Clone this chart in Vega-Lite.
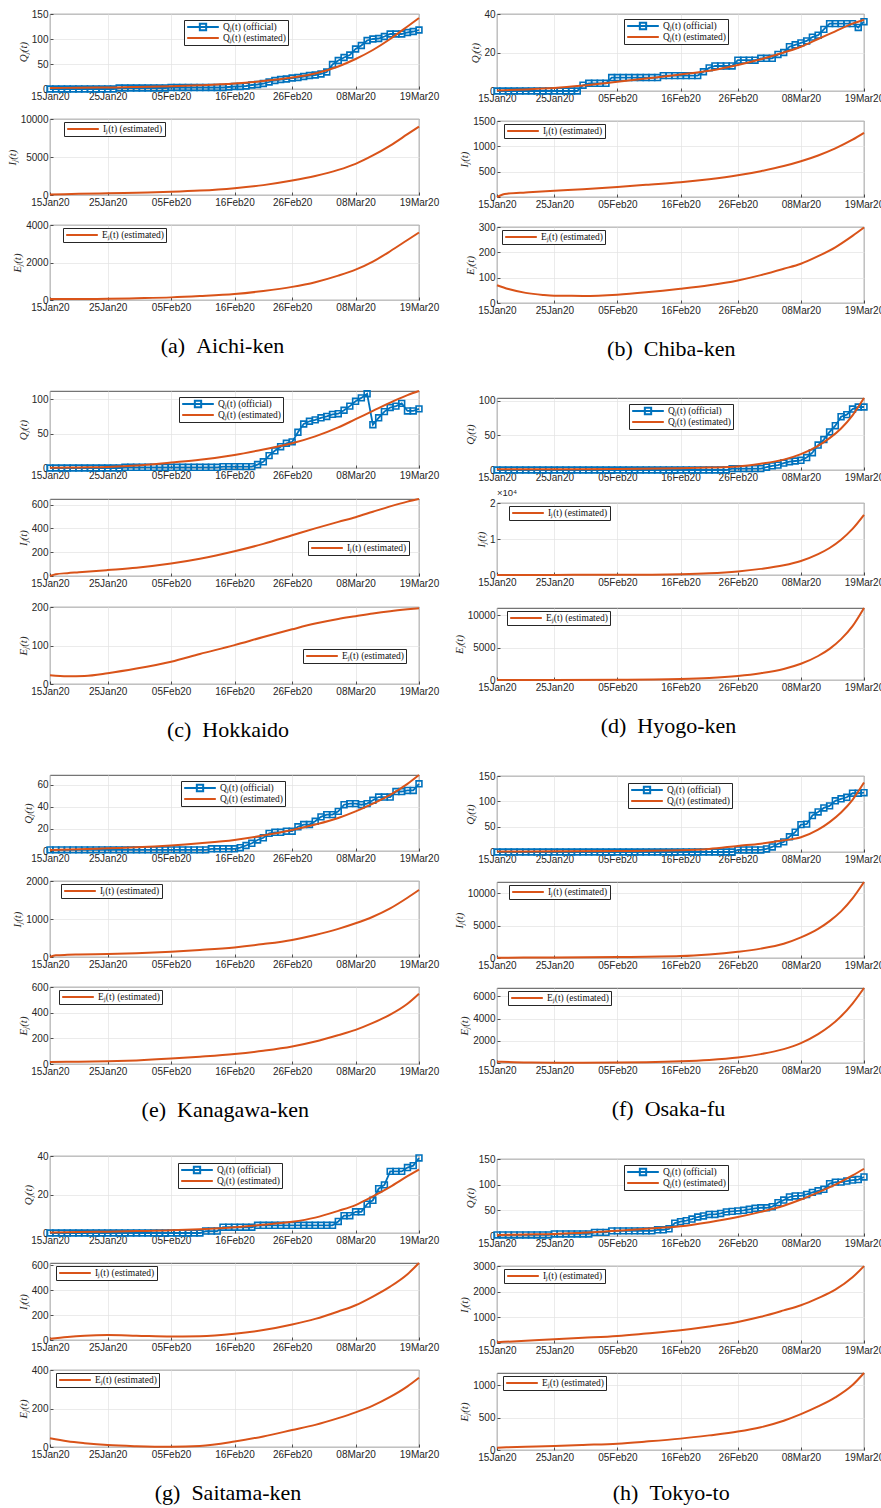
{
"$schema":"https://vega.github.io/schema/vega-lite/v6.json",
"background":"white",
"padding":{"left":5,"top":8,"right":0,"bottom":0},
"config":{
 "font":"Liberation Sans",
 "numberFormat":"d",
 "view":{"stroke":"#262626","strokeWidth":0.8},
 "axis":{"domain":false,"grid":true,"gridColor":"#e3e3e3","gridWidth":0.7,"ticks":true,"tickColor":"#262626","tickSize":-3,"tickWidth":0.8,"labelPadding":5,"labelFont":"Liberation Sans","labelFontSize":10,"labelColor":"#262626","labelFlush":false,"labelOverlap":false,"titleFont":"Liberation Serif","titleFontStyle":"italic","titleFontWeight":"normal","titleFontSize":11,"titleColor":"#262626","titlePadding":3},
 "legend":{"orient":"none","legendX":8,"legendY":3,"labelFont":"Liberation Serif","labelFontSize":9.5,"labelColor":"#111111","strokeColor":"#262626","fillColor":"white","padding":2,"symbolType":"stroke","symbolSize":1000,"symbolStrokeWidth":2,"rowPadding":1,"labelOffset":3,"clipHeight":10},
 "title":{"font":"Liberation Serif","fontSize":22,"fontWeight":"normal","color":"#000000","orient":"bottom","anchor":"middle","frame":"bounds","offset":24}
},
"datasets":{
"obs":[
{"p":"a","t":0,"v":0},{"p":"a","t":1,"v":0},{"p":"a","t":2,"v":0},{"p":"a","t":3,"v":0},{"p":"a","t":4,"v":0},{"p":"a","t":5,"v":0},{"p":"a","t":6,"v":0},{"p":"a","t":7,"v":0},{"p":"a","t":8,"v":0},{"p":"a","t":9,"v":0},{"p":"a","t":10,"v":0},{"p":"a","t":11,"v":0},{"p":"a","t":12,"v":2},{"p":"a","t":13,"v":2},{"p":"a","t":14,"v":2},{"p":"a","t":15,"v":2},{"p":"a","t":16,"v":2},{"p":"a","t":17,"v":2},{"p":"a","t":18,"v":2},{"p":"a","t":19,"v":2},{"p":"a","t":20,"v":2},{"p":"a","t":21,"v":3},{"p":"a","t":22,"v":3},{"p":"a","t":23,"v":3},{"p":"a","t":24,"v":3},{"p":"a","t":25,"v":3},{"p":"a","t":26,"v":3},{"p":"a","t":27,"v":3},{"p":"a","t":28,"v":3},{"p":"a","t":29,"v":3},{"p":"a","t":30,"v":3},{"p":"a","t":31,"v":4},{"p":"a","t":32,"v":5},{"p":"a","t":33,"v":5},{"p":"a","t":34,"v":6},{"p":"a","t":35,"v":8},{"p":"a","t":36,"v":9},{"p":"a","t":37,"v":11},{"p":"a","t":38,"v":14},{"p":"a","t":39,"v":17},{"p":"a","t":40,"v":19},{"p":"a","t":41,"v":20},{"p":"a","t":42,"v":22},{"p":"a","t":43,"v":23},{"p":"a","t":44,"v":25},{"p":"a","t":45,"v":27},{"p":"a","t":46,"v":28},{"p":"a","t":47,"v":30},{"p":"a","t":48,"v":34},{"p":"a","t":49,"v":49},{"p":"a","t":50,"v":57},{"p":"a","t":51,"v":63},{"p":"a","t":52,"v":68},{"p":"a","t":53,"v":80},{"p":"a","t":54,"v":87},{"p":"a","t":55,"v":97},{"p":"a","t":56,"v":100},{"p":"a","t":57,"v":101},{"p":"a","t":58,"v":105},{"p":"a","t":59,"v":110},{"p":"a","t":60,"v":110},{"p":"a","t":61,"v":110},{"p":"a","t":62,"v":113},{"p":"a","t":63,"v":115},{"p":"a","t":64,"v":118},
{"p":"b","t":0,"v":0},{"p":"b","t":1,"v":0},{"p":"b","t":2,"v":0},{"p":"b","t":3,"v":0},{"p":"b","t":4,"v":0},{"p":"b","t":5,"v":0},{"p":"b","t":6,"v":0},{"p":"b","t":7,"v":0},{"p":"b","t":8,"v":0},{"p":"b","t":9,"v":0},{"p":"b","t":10,"v":0},{"p":"b","t":11,"v":0},{"p":"b","t":12,"v":0},{"p":"b","t":13,"v":0},{"p":"b","t":14,"v":0},{"p":"b","t":15,"v":3},{"p":"b","t":16,"v":4},{"p":"b","t":17,"v":4},{"p":"b","t":18,"v":4},{"p":"b","t":19,"v":4},{"p":"b","t":20,"v":7},{"p":"b","t":21,"v":7},{"p":"b","t":22,"v":7},{"p":"b","t":23,"v":7},{"p":"b","t":24,"v":7},{"p":"b","t":25,"v":7},{"p":"b","t":26,"v":7},{"p":"b","t":27,"v":7},{"p":"b","t":28,"v":7},{"p":"b","t":29,"v":8},{"p":"b","t":30,"v":8},{"p":"b","t":31,"v":8},{"p":"b","t":32,"v":8},{"p":"b","t":33,"v":8},{"p":"b","t":34,"v":8},{"p":"b","t":35,"v":8},{"p":"b","t":36,"v":10},{"p":"b","t":37,"v":12},{"p":"b","t":38,"v":13},{"p":"b","t":39,"v":13},{"p":"b","t":40,"v":13},{"p":"b","t":41,"v":13},{"p":"b","t":42,"v":16},{"p":"b","t":43,"v":16},{"p":"b","t":44,"v":16},{"p":"b","t":45,"v":16},{"p":"b","t":46,"v":17},{"p":"b","t":47,"v":17},{"p":"b","t":48,"v":17},{"p":"b","t":49,"v":19},{"p":"b","t":50,"v":20},{"p":"b","t":51,"v":23},{"p":"b","t":52,"v":24},{"p":"b","t":53,"v":25},{"p":"b","t":54,"v":26},{"p":"b","t":55,"v":28},{"p":"b","t":56,"v":29},{"p":"b","t":57,"v":32},{"p":"b","t":58,"v":35},{"p":"b","t":59,"v":35},{"p":"b","t":60,"v":35},{"p":"b","t":61,"v":35},{"p":"b","t":62,"v":35},{"p":"b","t":63,"v":33},{"p":"b","t":64,"v":36},
{"p":"c","t":0,"v":0},{"p":"c","t":1,"v":0},{"p":"c","t":2,"v":0},{"p":"c","t":3,"v":0},{"p":"c","t":4,"v":0},{"p":"c","t":5,"v":0},{"p":"c","t":6,"v":0},{"p":"c","t":7,"v":0},{"p":"c","t":8,"v":0},{"p":"c","t":9,"v":0},{"p":"c","t":10,"v":0},{"p":"c","t":11,"v":0},{"p":"c","t":12,"v":0},{"p":"c","t":13,"v":1},{"p":"c","t":14,"v":1},{"p":"c","t":15,"v":1},{"p":"c","t":16,"v":1},{"p":"c","t":17,"v":1},{"p":"c","t":18,"v":1},{"p":"c","t":19,"v":1},{"p":"c","t":20,"v":1},{"p":"c","t":21,"v":1},{"p":"c","t":22,"v":1},{"p":"c","t":23,"v":1},{"p":"c","t":24,"v":1},{"p":"c","t":25,"v":1},{"p":"c","t":26,"v":1},{"p":"c","t":27,"v":1},{"p":"c","t":28,"v":1},{"p":"c","t":29,"v":1},{"p":"c","t":30,"v":2},{"p":"c","t":31,"v":2},{"p":"c","t":32,"v":2},{"p":"c","t":33,"v":2},{"p":"c","t":34,"v":2},{"p":"c","t":35,"v":2},{"p":"c","t":36,"v":5},{"p":"c","t":37,"v":9},{"p":"c","t":38,"v":18},{"p":"c","t":39,"v":25},{"p":"c","t":40,"v":31},{"p":"c","t":41,"v":36},{"p":"c","t":42,"v":38},{"p":"c","t":43,"v":52},{"p":"c","t":44,"v":64},{"p":"c","t":45,"v":68},{"p":"c","t":46,"v":70},{"p":"c","t":47,"v":73},{"p":"c","t":48,"v":75},{"p":"c","t":49,"v":78},{"p":"c","t":50,"v":79},{"p":"c","t":51,"v":84},{"p":"c","t":52,"v":90},{"p":"c","t":53,"v":97},{"p":"c","t":54,"v":102},{"p":"c","t":55,"v":108},{"p":"c","t":56,"v":63},{"p":"c","t":57,"v":73},{"p":"c","t":58,"v":82},{"p":"c","t":59,"v":88},{"p":"c","t":60,"v":90},{"p":"c","t":61,"v":94},{"p":"c","t":62,"v":83},{"p":"c","t":63,"v":83},{"p":"c","t":64,"v":86},
{"p":"d","t":0,"v":0},{"p":"d","t":1,"v":0},{"p":"d","t":2,"v":0},{"p":"d","t":3,"v":0},{"p":"d","t":4,"v":0},{"p":"d","t":5,"v":0},{"p":"d","t":6,"v":0},{"p":"d","t":7,"v":0},{"p":"d","t":8,"v":0},{"p":"d","t":9,"v":0},{"p":"d","t":10,"v":0},{"p":"d","t":11,"v":0},{"p":"d","t":12,"v":0},{"p":"d","t":13,"v":0},{"p":"d","t":14,"v":0},{"p":"d","t":15,"v":0},{"p":"d","t":16,"v":0},{"p":"d","t":17,"v":0},{"p":"d","t":18,"v":0},{"p":"d","t":19,"v":0},{"p":"d","t":20,"v":0},{"p":"d","t":21,"v":0},{"p":"d","t":22,"v":0},{"p":"d","t":23,"v":0},{"p":"d","t":24,"v":0},{"p":"d","t":25,"v":0},{"p":"d","t":26,"v":0},{"p":"d","t":27,"v":0},{"p":"d","t":28,"v":0},{"p":"d","t":29,"v":0},{"p":"d","t":30,"v":0},{"p":"d","t":31,"v":0},{"p":"d","t":32,"v":0},{"p":"d","t":33,"v":0},{"p":"d","t":34,"v":0},{"p":"d","t":35,"v":0},{"p":"d","t":36,"v":0},{"p":"d","t":37,"v":0},{"p":"d","t":38,"v":0},{"p":"d","t":39,"v":0},{"p":"d","t":40,"v":0},{"p":"d","t":41,"v":2},{"p":"d","t":42,"v":2},{"p":"d","t":43,"v":2},{"p":"d","t":44,"v":2},{"p":"d","t":45,"v":2},{"p":"d","t":46,"v":2},{"p":"d","t":47,"v":4},{"p":"d","t":48,"v":6},{"p":"d","t":49,"v":7},{"p":"d","t":50,"v":10},{"p":"d","t":51,"v":12},{"p":"d","t":52,"v":13},{"p":"d","t":53,"v":14},{"p":"d","t":54,"v":18},{"p":"d","t":55,"v":25},{"p":"d","t":56,"v":36},{"p":"d","t":57,"v":44},{"p":"d","t":58,"v":55},{"p":"d","t":59,"v":64},{"p":"d","t":60,"v":77},{"p":"d","t":61,"v":80},{"p":"d","t":62,"v":88},{"p":"d","t":63,"v":91},{"p":"d","t":64,"v":91},
{"p":"e","t":0,"v":1},{"p":"e","t":1,"v":1},{"p":"e","t":2,"v":1},{"p":"e","t":3,"v":1},{"p":"e","t":4,"v":1},{"p":"e","t":5,"v":1},{"p":"e","t":6,"v":1},{"p":"e","t":7,"v":1},{"p":"e","t":8,"v":1},{"p":"e","t":9,"v":1},{"p":"e","t":10,"v":1},{"p":"e","t":11,"v":1},{"p":"e","t":12,"v":1},{"p":"e","t":13,"v":1},{"p":"e","t":14,"v":1},{"p":"e","t":15,"v":1},{"p":"e","t":16,"v":1},{"p":"e","t":17,"v":1},{"p":"e","t":18,"v":1},{"p":"e","t":19,"v":1},{"p":"e","t":20,"v":1},{"p":"e","t":21,"v":1},{"p":"e","t":22,"v":1},{"p":"e","t":23,"v":1},{"p":"e","t":24,"v":1},{"p":"e","t":25,"v":1},{"p":"e","t":26,"v":1},{"p":"e","t":27,"v":1},{"p":"e","t":28,"v":2},{"p":"e","t":29,"v":2},{"p":"e","t":30,"v":2},{"p":"e","t":31,"v":2},{"p":"e","t":32,"v":2},{"p":"e","t":33,"v":3},{"p":"e","t":34,"v":5},{"p":"e","t":35,"v":7},{"p":"e","t":36,"v":10},{"p":"e","t":37,"v":12},{"p":"e","t":38,"v":16},{"p":"e","t":39,"v":17},{"p":"e","t":40,"v":17},{"p":"e","t":41,"v":18},{"p":"e","t":42,"v":18},{"p":"e","t":43,"v":22},{"p":"e","t":44,"v":24},{"p":"e","t":45,"v":24},{"p":"e","t":46,"v":27},{"p":"e","t":47,"v":31},{"p":"e","t":48,"v":33},{"p":"e","t":49,"v":33},{"p":"e","t":50,"v":36},{"p":"e","t":51,"v":42},{"p":"e","t":52,"v":43},{"p":"e","t":53,"v":43},{"p":"e","t":54,"v":42},{"p":"e","t":55,"v":43},{"p":"e","t":56,"v":46},{"p":"e","t":57,"v":49},{"p":"e","t":58,"v":49},{"p":"e","t":59,"v":49},{"p":"e","t":60,"v":54},{"p":"e","t":61,"v":54},{"p":"e","t":62,"v":55},{"p":"e","t":63,"v":55},{"p":"e","t":64,"v":61},
{"p":"f","t":0,"v":0},{"p":"f","t":1,"v":0},{"p":"f","t":2,"v":0},{"p":"f","t":3,"v":0},{"p":"f","t":4,"v":0},{"p":"f","t":5,"v":0},{"p":"f","t":6,"v":0},{"p":"f","t":7,"v":0},{"p":"f","t":8,"v":0},{"p":"f","t":9,"v":0},{"p":"f","t":10,"v":0},{"p":"f","t":11,"v":0},{"p":"f","t":12,"v":0},{"p":"f","t":13,"v":0},{"p":"f","t":14,"v":0},{"p":"f","t":15,"v":0},{"p":"f","t":16,"v":0},{"p":"f","t":17,"v":0},{"p":"f","t":18,"v":0},{"p":"f","t":19,"v":0},{"p":"f","t":20,"v":0},{"p":"f","t":21,"v":0},{"p":"f","t":22,"v":0},{"p":"f","t":23,"v":0},{"p":"f","t":24,"v":0},{"p":"f","t":25,"v":0},{"p":"f","t":26,"v":0},{"p":"f","t":27,"v":0},{"p":"f","t":28,"v":0},{"p":"f","t":29,"v":0},{"p":"f","t":30,"v":0},{"p":"f","t":31,"v":0},{"p":"f","t":32,"v":0},{"p":"f","t":33,"v":0},{"p":"f","t":34,"v":0},{"p":"f","t":35,"v":0},{"p":"f","t":36,"v":0},{"p":"f","t":37,"v":0},{"p":"f","t":38,"v":0},{"p":"f","t":39,"v":0},{"p":"f","t":40,"v":0},{"p":"f","t":41,"v":0},{"p":"f","t":42,"v":4},{"p":"f","t":43,"v":4},{"p":"f","t":44,"v":4},{"p":"f","t":45,"v":4},{"p":"f","t":46,"v":4},{"p":"f","t":47,"v":6},{"p":"f","t":48,"v":10},{"p":"f","t":49,"v":16},{"p":"f","t":50,"v":20},{"p":"f","t":51,"v":30},{"p":"f","t":52,"v":39},{"p":"f","t":53,"v":54},{"p":"f","t":54,"v":55},{"p":"f","t":55,"v":72},{"p":"f","t":56,"v":79},{"p":"f","t":57,"v":87},{"p":"f","t":58,"v":91},{"p":"f","t":59,"v":101},{"p":"f","t":60,"v":105},{"p":"f","t":61,"v":108},{"p":"f","t":62,"v":116},{"p":"f","t":63,"v":116},{"p":"f","t":64,"v":117},
{"p":"g","t":0,"v":0},{"p":"g","t":1,"v":0},{"p":"g","t":2,"v":0},{"p":"g","t":3,"v":0},{"p":"g","t":4,"v":0},{"p":"g","t":5,"v":0},{"p":"g","t":6,"v":0},{"p":"g","t":7,"v":0},{"p":"g","t":8,"v":0},{"p":"g","t":9,"v":0},{"p":"g","t":10,"v":0},{"p":"g","t":11,"v":0},{"p":"g","t":12,"v":0},{"p":"g","t":13,"v":0},{"p":"g","t":14,"v":0},{"p":"g","t":15,"v":0},{"p":"g","t":16,"v":0},{"p":"g","t":17,"v":0},{"p":"g","t":18,"v":0},{"p":"g","t":19,"v":0},{"p":"g","t":20,"v":0},{"p":"g","t":21,"v":0},{"p":"g","t":22,"v":0},{"p":"g","t":23,"v":0},{"p":"g","t":24,"v":0},{"p":"g","t":25,"v":0},{"p":"g","t":26,"v":0},{"p":"g","t":27,"v":1},{"p":"g","t":28,"v":1},{"p":"g","t":29,"v":1},{"p":"g","t":30,"v":3},{"p":"g","t":31,"v":3},{"p":"g","t":32,"v":3},{"p":"g","t":33,"v":3},{"p":"g","t":34,"v":3},{"p":"g","t":35,"v":3},{"p":"g","t":36,"v":4},{"p":"g","t":37,"v":4},{"p":"g","t":38,"v":4},{"p":"g","t":39,"v":4},{"p":"g","t":40,"v":4},{"p":"g","t":41,"v":4},{"p":"g","t":42,"v":4},{"p":"g","t":43,"v":4},{"p":"g","t":44,"v":4},{"p":"g","t":45,"v":4},{"p":"g","t":46,"v":4},{"p":"g","t":47,"v":4},{"p":"g","t":48,"v":4},{"p":"g","t":49,"v":4},{"p":"g","t":50,"v":6},{"p":"g","t":51,"v":9},{"p":"g","t":52,"v":9},{"p":"g","t":53,"v":11},{"p":"g","t":54,"v":11},{"p":"g","t":55,"v":15},{"p":"g","t":56,"v":17},{"p":"g","t":57,"v":23},{"p":"g","t":58,"v":25},{"p":"g","t":59,"v":32},{"p":"g","t":60,"v":32},{"p":"g","t":61,"v":32},{"p":"g","t":62,"v":34},{"p":"g","t":63,"v":35},{"p":"g","t":64,"v":39},
{"p":"h","t":0,"v":2},{"p":"h","t":1,"v":2},{"p":"h","t":2,"v":2},{"p":"h","t":3,"v":2},{"p":"h","t":4,"v":2},{"p":"h","t":5,"v":2},{"p":"h","t":6,"v":2},{"p":"h","t":7,"v":2},{"p":"h","t":8,"v":2},{"p":"h","t":9,"v":2},{"p":"h","t":10,"v":4},{"p":"h","t":11,"v":4},{"p":"h","t":12,"v":4},{"p":"h","t":13,"v":4},{"p":"h","t":14,"v":4},{"p":"h","t":15,"v":4},{"p":"h","t":16,"v":4},{"p":"h","t":17,"v":7},{"p":"h","t":18,"v":7},{"p":"h","t":19,"v":7},{"p":"h","t":20,"v":10},{"p":"h","t":21,"v":10},{"p":"h","t":22,"v":10},{"p":"h","t":23,"v":10},{"p":"h","t":24,"v":10},{"p":"h","t":25,"v":10},{"p":"h","t":26,"v":10},{"p":"h","t":27,"v":10},{"p":"h","t":28,"v":12},{"p":"h","t":29,"v":12},{"p":"h","t":30,"v":14},{"p":"h","t":31,"v":25},{"p":"h","t":32,"v":28},{"p":"h","t":33,"v":30},{"p":"h","t":34,"v":33},{"p":"h","t":35,"v":37},{"p":"h","t":36,"v":39},{"p":"h","t":37,"v":42},{"p":"h","t":38,"v":42},{"p":"h","t":39,"v":44},{"p":"h","t":40,"v":47},{"p":"h","t":41,"v":48},{"p":"h","t":42,"v":49},{"p":"h","t":43,"v":50},{"p":"h","t":44,"v":52},{"p":"h","t":45,"v":54},{"p":"h","t":46,"v":55},{"p":"h","t":47,"v":55},{"p":"h","t":48,"v":57},{"p":"h","t":49,"v":65},{"p":"h","t":50,"v":70},{"p":"h","t":51,"v":76},{"p":"h","t":52,"v":78},{"p":"h","t":53,"v":78},{"p":"h","t":54,"v":81},{"p":"h","t":55,"v":85},{"p":"h","t":56,"v":88},{"p":"h","t":57,"v":91},{"p":"h","t":58,"v":102},{"p":"h","t":59,"v":105},{"p":"h","t":60,"v":105},{"p":"h","t":61,"v":107},{"p":"h","t":62,"v":109},{"p":"h","t":63,"v":110},{"p":"h","t":64,"v":115}
],
"est":[
{"p":"a","s":"Q","t":0,"v":2},{"p":"a","s":"Q","t":5,"v":2.5},{"p":"a","s":"Q","t":10,"v":3},{"p":"a","s":"Q","t":15,"v":4},{"p":"a","s":"Q","t":21,"v":5.5},{"p":"a","s":"Q","t":26,"v":7.5},{"p":"a","s":"Q","t":32,"v":11},{"p":"a","s":"Q","t":37,"v":16},{"p":"a","s":"Q","t":42,"v":23},{"p":"a","s":"Q","t":46,"v":31},{"p":"a","s":"Q","t":50,"v":45},{"p":"a","s":"Q","t":53,"v":60},{"p":"a","s":"Q","t":56,"v":78},{"p":"a","s":"Q","t":59,"v":100},{"p":"a","s":"Q","t":62,"v":125},{"p":"a","s":"Q","t":64,"v":142},
{"p":"a","s":"I","t":0,"v":80},{"p":"a","s":"I","t":5,"v":150},{"p":"a","s":"I","t":10,"v":220},{"p":"a","s":"I","t":15,"v":300},{"p":"a","s":"I","t":21,"v":420},{"p":"a","s":"I","t":26,"v":580},{"p":"a","s":"I","t":32,"v":900},{"p":"a","s":"I","t":37,"v":1300},{"p":"a","s":"I","t":42,"v":1900},{"p":"a","s":"I","t":46,"v":2500},{"p":"a","s":"I","t":50,"v":3300},{"p":"a","s":"I","t":53,"v":4100},{"p":"a","s":"I","t":56,"v":5200},{"p":"a","s":"I","t":59,"v":6500},{"p":"a","s":"I","t":62,"v":8000},{"p":"a","s":"I","t":64,"v":9000},
{"p":"a","s":"E","t":0,"v":50},{"p":"a","s":"E","t":5,"v":55},{"p":"a","s":"E","t":10,"v":65},{"p":"a","s":"E","t":15,"v":95},{"p":"a","s":"E","t":21,"v":140},{"p":"a","s":"E","t":26,"v":210},{"p":"a","s":"E","t":32,"v":320},{"p":"a","s":"E","t":37,"v":480},{"p":"a","s":"E","t":42,"v":700},{"p":"a","s":"E","t":46,"v":950},{"p":"a","s":"E","t":50,"v":1300},{"p":"a","s":"E","t":53,"v":1620},{"p":"a","s":"E","t":56,"v":2050},{"p":"a","s":"E","t":59,"v":2600},{"p":"a","s":"E","t":62,"v":3200},{"p":"a","s":"E","t":64,"v":3600},
{"p":"b","s":"Q","t":0,"v":0.3},{"p":"b","s":"Q","t":5,"v":0.8},{"p":"b","s":"Q","t":10,"v":1.5},{"p":"b","s":"Q","t":15,"v":2.8},{"p":"b","s":"Q","t":21,"v":4.8},{"p":"b","s":"Q","t":26,"v":6.5},{"p":"b","s":"Q","t":32,"v":8.6},{"p":"b","s":"Q","t":37,"v":10.5},{"p":"b","s":"Q","t":42,"v":13.5},{"p":"b","s":"Q","t":46,"v":16.5},{"p":"b","s":"Q","t":50,"v":20},{"p":"b","s":"Q","t":53,"v":23},{"p":"b","s":"Q","t":56,"v":27},{"p":"b","s":"Q","t":59,"v":31},{"p":"b","s":"Q","t":62,"v":35},{"p":"b","s":"Q","t":64,"v":37},
{"p":"b","s":"I","t":0,"v":0},{"p":"b","s":"I","t":1,"v":50},{"p":"b","s":"I","t":2,"v":68},{"p":"b","s":"I","t":5,"v":90},{"p":"b","s":"I","t":10,"v":125},{"p":"b","s":"I","t":15,"v":155},{"p":"b","s":"I","t":21,"v":197},{"p":"b","s":"I","t":26,"v":240},{"p":"b","s":"I","t":32,"v":290},{"p":"b","s":"I","t":37,"v":350},{"p":"b","s":"I","t":42,"v":428},{"p":"b","s":"I","t":46,"v":510},{"p":"b","s":"I","t":50,"v":610},{"p":"b","s":"I","t":53,"v":705},{"p":"b","s":"I","t":56,"v":820},{"p":"b","s":"I","t":59,"v":960},{"p":"b","s":"I","t":62,"v":1130},{"p":"b","s":"I","t":64,"v":1265},
{"p":"b","s":"E","t":0,"v":70},{"p":"b","s":"E","t":2,"v":55},{"p":"b","s":"E","t":5,"v":40},{"p":"b","s":"E","t":8,"v":32},{"p":"b","s":"E","t":10,"v":29},{"p":"b","s":"E","t":15,"v":28},{"p":"b","s":"E","t":21,"v":33},{"p":"b","s":"E","t":26,"v":42},{"p":"b","s":"E","t":32,"v":56},{"p":"b","s":"E","t":37,"v":70},{"p":"b","s":"E","t":42,"v":89},{"p":"b","s":"E","t":46,"v":110},{"p":"b","s":"E","t":50,"v":135},{"p":"b","s":"E","t":53,"v":155},{"p":"b","s":"E","t":56,"v":185},{"p":"b","s":"E","t":59,"v":220},{"p":"b","s":"E","t":62,"v":265},{"p":"b","s":"E","t":64,"v":298},
{"p":"c","s":"Q","t":0,"v":0.3},{"p":"c","s":"Q","t":5,"v":0.8},{"p":"c","s":"Q","t":10,"v":1.5},{"p":"c","s":"Q","t":15,"v":3.5},{"p":"c","s":"Q","t":21,"v":8},{"p":"c","s":"Q","t":26,"v":12},{"p":"c","s":"Q","t":32,"v":19},{"p":"c","s":"Q","t":37,"v":27},{"p":"c","s":"Q","t":42,"v":36},{"p":"c","s":"Q","t":46,"v":46},{"p":"c","s":"Q","t":50,"v":59},{"p":"c","s":"Q","t":53,"v":71},{"p":"c","s":"Q","t":56,"v":83},{"p":"c","s":"Q","t":59,"v":95},{"p":"c","s":"Q","t":62,"v":106},{"p":"c","s":"Q","t":64,"v":112},
{"p":"c","s":"I","t":0,"v":0},{"p":"c","s":"I","t":1,"v":15},{"p":"c","s":"I","t":3,"v":24},{"p":"c","s":"I","t":5,"v":31},{"p":"c","s":"I","t":10,"v":50},{"p":"c","s":"I","t":15,"v":70},{"p":"c","s":"I","t":21,"v":105},{"p":"c","s":"I","t":26,"v":145},{"p":"c","s":"I","t":32,"v":208},{"p":"c","s":"I","t":37,"v":270},{"p":"c","s":"I","t":42,"v":342},{"p":"c","s":"I","t":46,"v":400},{"p":"c","s":"I","t":50,"v":455},{"p":"c","s":"I","t":53,"v":494},{"p":"c","s":"I","t":56,"v":540},{"p":"c","s":"I","t":59,"v":585},{"p":"c","s":"I","t":62,"v":625},{"p":"c","s":"I","t":64,"v":647},
{"p":"c","s":"E","t":0,"v":23},{"p":"c","s":"E","t":3,"v":20},{"p":"c","s":"E","t":6,"v":21},{"p":"c","s":"E","t":10,"v":28},{"p":"c","s":"E","t":15,"v":40},{"p":"c","s":"E","t":21,"v":58},{"p":"c","s":"E","t":26,"v":78},{"p":"c","s":"E","t":32,"v":101},{"p":"c","s":"E","t":37,"v":122},{"p":"c","s":"E","t":42,"v":142},{"p":"c","s":"E","t":46,"v":157},{"p":"c","s":"E","t":50,"v":169},{"p":"c","s":"E","t":53,"v":176},{"p":"c","s":"E","t":56,"v":183},{"p":"c","s":"E","t":59,"v":189},{"p":"c","s":"E","t":62,"v":194},{"p":"c","s":"E","t":64,"v":197},
{"p":"d","s":"Q","t":0,"v":1},{"p":"d","s":"Q","t":10,"v":1.2},{"p":"d","s":"Q","t":21,"v":1.5},{"p":"d","s":"Q","t":32,"v":2.5},{"p":"d","s":"Q","t":37,"v":3.5},{"p":"d","s":"Q","t":42,"v":5},{"p":"d","s":"Q","t":46,"v":9},{"p":"d","s":"Q","t":50,"v":15},{"p":"d","s":"Q","t":53,"v":23},{"p":"d","s":"Q","t":56,"v":35},{"p":"d","s":"Q","t":58,"v":46},{"p":"d","s":"Q","t":60,"v":60},{"p":"d","s":"Q","t":62,"v":79},{"p":"d","s":"Q","t":64,"v":104},
{"p":"d","s":"I","t":0,"v":10},{"p":"d","s":"I","t":10,"v":30},{"p":"d","s":"I","t":21,"v":60},{"p":"d","s":"I","t":32,"v":240},{"p":"d","s":"I","t":37,"v":480},{"p":"d","s":"I","t":42,"v":1000},{"p":"d","s":"I","t":46,"v":1700},{"p":"d","s":"I","t":50,"v":2700},{"p":"d","s":"I","t":53,"v":3900},{"p":"d","s":"I","t":56,"v":5800},{"p":"d","s":"I","t":58,"v":7500},{"p":"d","s":"I","t":60,"v":9800},{"p":"d","s":"I","t":62,"v":12800},{"p":"d","s":"I","t":64,"v":16700},
{"p":"d","s":"E","t":0,"v":10},{"p":"d","s":"E","t":10,"v":15},{"p":"d","s":"E","t":21,"v":40},{"p":"d","s":"E","t":32,"v":150},{"p":"d","s":"E","t":37,"v":300},{"p":"d","s":"E","t":42,"v":620},{"p":"d","s":"E","t":46,"v":1050},{"p":"d","s":"E","t":50,"v":1700},{"p":"d","s":"E","t":53,"v":2500},{"p":"d","s":"E","t":56,"v":3700},{"p":"d","s":"E","t":58,"v":4800},{"p":"d","s":"E","t":60,"v":6300},{"p":"d","s":"E","t":62,"v":8300},{"p":"d","s":"E","t":64,"v":11100},
{"p":"e","s":"Q","t":0,"v":1},{"p":"e","s":"Q","t":5,"v":1.5},{"p":"e","s":"Q","t":10,"v":2.4},{"p":"e","s":"Q","t":15,"v":3.3},{"p":"e","s":"Q","t":21,"v":5},{"p":"e","s":"Q","t":26,"v":7},{"p":"e","s":"Q","t":32,"v":10},{"p":"e","s":"Q","t":37,"v":14},{"p":"e","s":"Q","t":42,"v":19},{"p":"e","s":"Q","t":46,"v":24},{"p":"e","s":"Q","t":50,"v":30},{"p":"e","s":"Q","t":53,"v":36},{"p":"e","s":"Q","t":56,"v":43},{"p":"e","s":"Q","t":59,"v":51},{"p":"e","s":"Q","t":62,"v":61},{"p":"e","s":"Q","t":64,"v":69},
{"p":"e","s":"I","t":0,"v":0},{"p":"e","s":"I","t":1,"v":45},{"p":"e","s":"I","t":3,"v":58},{"p":"e","s":"I","t":5,"v":65},{"p":"e","s":"I","t":10,"v":78},{"p":"e","s":"I","t":15,"v":100},{"p":"e","s":"I","t":21,"v":140},{"p":"e","s":"I","t":26,"v":185},{"p":"e","s":"I","t":32,"v":252},{"p":"e","s":"I","t":37,"v":340},{"p":"e","s":"I","t":42,"v":450},{"p":"e","s":"I","t":46,"v":580},{"p":"e","s":"I","t":50,"v":740},{"p":"e","s":"I","t":53,"v":887},{"p":"e","s":"I","t":56,"v":1060},{"p":"e","s":"I","t":59,"v":1280},{"p":"e","s":"I","t":62,"v":1560},{"p":"e","s":"I","t":64,"v":1765},
{"p":"e","s":"E","t":0,"v":16},{"p":"e","s":"E","t":5,"v":18},{"p":"e","s":"E","t":10,"v":21},{"p":"e","s":"E","t":15,"v":28},{"p":"e","s":"E","t":21,"v":42},{"p":"e","s":"E","t":26,"v":57},{"p":"e","s":"E","t":32,"v":78},{"p":"e","s":"E","t":37,"v":103},{"p":"e","s":"E","t":42,"v":136},{"p":"e","s":"E","t":46,"v":175},{"p":"e","s":"E","t":50,"v":225},{"p":"e","s":"E","t":53,"v":266},{"p":"e","s":"E","t":56,"v":320},{"p":"e","s":"E","t":59,"v":385},{"p":"e","s":"E","t":62,"v":470},{"p":"e","s":"E","t":64,"v":548},
{"p":"f","s":"Q","t":0,"v":1},{"p":"f","s":"Q","t":10,"v":1.3},{"p":"f","s":"Q","t":21,"v":2},{"p":"f","s":"Q","t":32,"v":3.5},{"p":"f","s":"Q","t":37,"v":6},{"p":"f","s":"Q","t":42,"v":12},{"p":"f","s":"Q","t":46,"v":16.5},{"p":"f","s":"Q","t":50,"v":23},{"p":"f","s":"Q","t":53,"v":29},{"p":"f","s":"Q","t":56,"v":44},{"p":"f","s":"Q","t":58,"v":59},{"p":"f","s":"Q","t":60,"v":78},{"p":"f","s":"Q","t":62,"v":103},{"p":"f","s":"Q","t":64,"v":137},
{"p":"f","s":"I","t":0,"v":50},{"p":"f","s":"I","t":10,"v":80},{"p":"f","s":"I","t":21,"v":150},{"p":"f","s":"I","t":32,"v":300},{"p":"f","s":"I","t":37,"v":550},{"p":"f","s":"I","t":42,"v":970},{"p":"f","s":"I","t":46,"v":1450},{"p":"f","s":"I","t":50,"v":2200},{"p":"f","s":"I","t":53,"v":3180},{"p":"f","s":"I","t":56,"v":4500},{"p":"f","s":"I","t":58,"v":5700},{"p":"f","s":"I","t":60,"v":7200},{"p":"f","s":"I","t":62,"v":9200},{"p":"f","s":"I","t":64,"v":11740},
{"p":"f","s":"E","t":0,"v":120},{"p":"f","s":"E","t":3,"v":70},{"p":"f","s":"E","t":6,"v":40},{"p":"f","s":"E","t":10,"v":30},{"p":"f","s":"E","t":15,"v":30},{"p":"f","s":"E","t":21,"v":40},{"p":"f","s":"E","t":26,"v":65},{"p":"f","s":"E","t":32,"v":150},{"p":"f","s":"E","t":37,"v":280},{"p":"f","s":"E","t":42,"v":500},{"p":"f","s":"E","t":46,"v":800},{"p":"f","s":"E","t":50,"v":1250},{"p":"f","s":"E","t":53,"v":1790},{"p":"f","s":"E","t":56,"v":2600},{"p":"f","s":"E","t":58,"v":3300},{"p":"f","s":"E","t":60,"v":4200},{"p":"f","s":"E","t":62,"v":5350},{"p":"f","s":"E","t":64,"v":6750},
{"p":"g","s":"Q","t":0,"v":0.3},{"p":"g","s":"Q","t":5,"v":0.5},{"p":"g","s":"Q","t":10,"v":0.7},{"p":"g","s":"Q","t":15,"v":1},{"p":"g","s":"Q","t":21,"v":1.4},{"p":"g","s":"Q","t":26,"v":2},{"p":"g","s":"Q","t":32,"v":3},{"p":"g","s":"Q","t":37,"v":4.3},{"p":"g","s":"Q","t":42,"v":5.8},{"p":"g","s":"Q","t":46,"v":8},{"p":"g","s":"Q","t":50,"v":11.5},{"p":"g","s":"Q","t":53,"v":14.5},{"p":"g","s":"Q","t":56,"v":19},{"p":"g","s":"Q","t":59,"v":24},{"p":"g","s":"Q","t":62,"v":29.5},{"p":"g","s":"Q","t":64,"v":33},
{"p":"g","s":"I","t":0,"v":10},{"p":"g","s":"I","t":3,"v":25},{"p":"g","s":"I","t":6,"v":35},{"p":"g","s":"I","t":10,"v":40},{"p":"g","s":"I","t":15,"v":35},{"p":"g","s":"I","t":21,"v":28},{"p":"g","s":"I","t":26,"v":30},{"p":"g","s":"I","t":32,"v":50},{"p":"g","s":"I","t":37,"v":80},{"p":"g","s":"I","t":42,"v":125},{"p":"g","s":"I","t":46,"v":170},{"p":"g","s":"I","t":50,"v":230},{"p":"g","s":"I","t":53,"v":280},{"p":"g","s":"I","t":56,"v":350},{"p":"g","s":"I","t":59,"v":430},{"p":"g","s":"I","t":62,"v":530},{"p":"g","s":"I","t":64,"v":620},
{"p":"g","s":"E","t":0,"v":45},{"p":"g","s":"E","t":3,"v":30},{"p":"g","s":"E","t":6,"v":20},{"p":"g","s":"E","t":10,"v":10},{"p":"g","s":"E","t":15,"v":4},{"p":"g","s":"E","t":21,"v":1},{"p":"g","s":"E","t":26,"v":5},{"p":"g","s":"E","t":32,"v":28},{"p":"g","s":"E","t":37,"v":55},{"p":"g","s":"E","t":42,"v":88},{"p":"g","s":"E","t":46,"v":115},{"p":"g","s":"E","t":50,"v":150},{"p":"g","s":"E","t":53,"v":180},{"p":"g","s":"E","t":56,"v":215},{"p":"g","s":"E","t":59,"v":260},{"p":"g","s":"E","t":62,"v":315},{"p":"g","s":"E","t":64,"v":360},
{"p":"h","s":"Q","t":0,"v":2},{"p":"h","s":"Q","t":5,"v":3},{"p":"h","s":"Q","t":10,"v":4},{"p":"h","s":"Q","t":15,"v":6.5},{"p":"h","s":"Q","t":21,"v":10},{"p":"h","s":"Q","t":26,"v":14},{"p":"h","s":"Q","t":32,"v":19},{"p":"h","s":"Q","t":37,"v":27},{"p":"h","s":"Q","t":42,"v":37},{"p":"h","s":"Q","t":46,"v":47},{"p":"h","s":"Q","t":50,"v":59},{"p":"h","s":"Q","t":53,"v":71},{"p":"h","s":"Q","t":56,"v":85},{"p":"h","s":"Q","t":59,"v":100},{"p":"h","s":"Q","t":62,"v":118},{"p":"h","s":"Q","t":64,"v":131},
{"p":"h","s":"I","t":0,"v":30},{"p":"h","s":"I","t":5,"v":90},{"p":"h","s":"I","t":10,"v":143},{"p":"h","s":"I","t":15,"v":200},{"p":"h","s":"I","t":21,"v":273},{"p":"h","s":"I","t":26,"v":370},{"p":"h","s":"I","t":32,"v":495},{"p":"h","s":"I","t":37,"v":640},{"p":"h","s":"I","t":42,"v":820},{"p":"h","s":"I","t":46,"v":1020},{"p":"h","s":"I","t":50,"v":1270},{"p":"h","s":"I","t":53,"v":1470},{"p":"h","s":"I","t":56,"v":1750},{"p":"h","s":"I","t":59,"v":2080},{"p":"h","s":"I","t":62,"v":2560},{"p":"h","s":"I","t":64,"v":2995},
{"p":"h","s":"E","t":0,"v":36},{"p":"h","s":"E","t":5,"v":50},{"p":"h","s":"E","t":10,"v":62},{"p":"h","s":"E","t":15,"v":78},{"p":"h","s":"E","t":21,"v":98},{"p":"h","s":"E","t":26,"v":130},{"p":"h","s":"E","t":32,"v":175},{"p":"h","s":"E","t":37,"v":225},{"p":"h","s":"E","t":42,"v":283},{"p":"h","s":"E","t":46,"v":350},{"p":"h","s":"E","t":50,"v":450},{"p":"h","s":"E","t":53,"v":551},{"p":"h","s":"E","t":56,"v":670},{"p":"h","s":"E","t":59,"v":810},{"p":"h","s":"E","t":62,"v":1000},{"p":"h","s":"E","t":64,"v":1185}
]
},
"spacing":12,
"resolve":{"scale":{"x":"independent","y":"independent","color":"independent"},"legend":{"color":"independent"},"axis":{"x":"independent","y":"independent"}},
"hconcat":[
{"spacing":28,
 "resolve":{"scale":{"x":"independent","y":"independent","color":"independent"},"legend":{"color":"independent"},"axis":{"x":"independent","y":"independent"}},
 "vconcat":[
  {"title":{"text":"(a)\u00a0\u00a0Aichi-ken"},"spacing":30,"bounds":"flush",
   "resolve":{"scale":{"x":"independent","y":"independent","color":"independent"},"legend":{"color":"independent"}},
   "vconcat":[
    {"width":369,"height":75,
     "encoding":{"x":{"field":"t","type":"quantitative","scale":{"domain":[0,64],"nice":false},"axis":{"values":[0,10,21,32,42,53,64],"labelExpr":"['15Jan20','25Jan20','05Feb20','16Feb20','26Feb20','08Mar20','19Mar20'][indexof([0,10,21,32,42,53,64],datum.value)]","title":null}},
                 "y":{"field":"v","type":"quantitative","scale":{"domain":[0,150],"nice":false},"axis":{"values":[0,50,100,150],"title":"Q\u2c7c(t)"}}},
     "layer":[
      {"data":{"name":"obs"},"transform":[{"filter":"datum.p=='a'"}],
       "mark":{"type":"line","strokeWidth":1.8,"point":{"shape":"square","filled":false,"size":34,"strokeWidth":1.6}},
       "encoding":{"color":{"datum":"Q\u2c7c(t) (official)","scale":{"domain":["Q\u2c7c(t) (official)","Q\u2c7c(t) (estimated)"],"range":["#0072BD","#D95319"]},
         "legend":{"title":null,"legendX":134,"legendY":6,"encode":{"symbols":{"update":{"shape":{"signal":"datum.index===0?'M-1,0H1M-0.2,-0.2H0.2V0.2H-0.2Z':'stroke'"},"fill":{"value":"transparent"},"stroke":{"signal":"datum.index===0?'#0072BD':'#D95319'"}}}}}}}},
      {"data":{"name":"est"},"transform":[{"filter":"datum.p=='a'&&datum.s=='Q'"}],
       "mark":{"type":"line","strokeWidth":2,"interpolate":"monotone"},
       "encoding":{"color":{"datum":"Q\u2c7c(t) (estimated)"}}}
     ]},
    {"width":369,"height":76,"data":{"name":"est"},"transform":[{"filter":"datum.p=='a'&&datum.s=='I'"}],
     "mark":{"type":"line","strokeWidth":2,"interpolate":"monotone"},
     "encoding":{"x":{"field":"t","type":"quantitative","scale":{"domain":[0,64],"nice":false},"axis":{"values":[0,10,21,32,42,53,64],"labelExpr":"['15Jan20','25Jan20','05Feb20','16Feb20','26Feb20','08Mar20','19Mar20'][indexof([0,10,21,32,42,53,64],datum.value)]","title":null}},
                 "y":{"field":"v","type":"quantitative","scale":{"domain":[0,10000],"nice":false},"axis":{"values":[0,5000,10000],"title":"I\u2c7c(t)"}},
                 "color":{"datum":"I\u2c7c(t) (estimated)","scale":{"range":["#D95319"]},"legend":{"title":null,"legendX":14,"legendY":3}}}},
    {"width":369,"height":75,"data":{"name":"est"},"transform":[{"filter":"datum.p=='a'&&datum.s=='E'"}],
     "mark":{"type":"line","strokeWidth":2,"interpolate":"monotone"},
     "encoding":{"x":{"field":"t","type":"quantitative","scale":{"domain":[0,64],"nice":false},"axis":{"values":[0,10,21,32,42,53,64],"labelExpr":"['15Jan20','25Jan20','05Feb20','16Feb20','26Feb20','08Mar20','19Mar20'][indexof([0,10,21,32,42,53,64],datum.value)]","title":null}},
                 "y":{"field":"v","type":"quantitative","scale":{"domain":[0,4000],"nice":false},"axis":{"values":[0,2000,4000],"title":"E\u2c7c(t)"}},
                 "color":{"datum":"E\u2c7c(t) (estimated)","scale":{"range":["#D95319"]},"legend":{"title":null,"legendX":13,"legendY":3}}}}
   ]},
  {"title":{"text":"(c)\u00a0\u00a0Hokkaido"},"spacing":31,"bounds":"flush",
   "resolve":{"scale":{"x":"independent","y":"independent","color":"independent"},"legend":{"color":"independent"}},
   "vconcat":[
    {"width":369,"height":77,
     "encoding":{"x":{"field":"t","type":"quantitative","scale":{"domain":[0,64],"nice":false},"axis":{"values":[0,10,21,32,42,53,64],"labelExpr":"['15Jan20','25Jan20','05Feb20','16Feb20','26Feb20','08Mar20','19Mar20'][indexof([0,10,21,32,42,53,64],datum.value)]","title":null}},
                 "y":{"field":"v","type":"quantitative","scale":{"domain":[0,112],"nice":false},"axis":{"values":[0,50,100],"title":"Q\u2c7c(t)"}}},
     "layer":[
      {"data":{"name":"obs"},"transform":[{"filter":"datum.p=='c'"}],
       "mark":{"type":"line","strokeWidth":1.8,"point":{"shape":"square","filled":false,"size":34,"strokeWidth":1.6}},
       "encoding":{"color":{"datum":"Q\u2c7c(t) (official)","scale":{"domain":["Q\u2c7c(t) (official)","Q\u2c7c(t) (estimated)"],"range":["#0072BD","#D95319"]},
         "legend":{"title":null,"legendX":129,"legendY":6,"encode":{"symbols":{"update":{"shape":{"signal":"datum.index===0?'M-1,0H1M-0.2,-0.2H0.2V0.2H-0.2Z':'stroke'"},"fill":{"value":"transparent"},"stroke":{"signal":"datum.index===0?'#0072BD':'#D95319'"}}}}}}}},
      {"data":{"name":"est"},"transform":[{"filter":"datum.p=='c'&&datum.s=='Q'"}],
       "mark":{"type":"line","strokeWidth":2,"interpolate":"monotone"},
       "encoding":{"color":{"datum":"Q\u2c7c(t) (estimated)"}}}
     ]},
    {"width":369,"height":77,"data":{"name":"est"},"transform":[{"filter":"datum.p=='c'&&datum.s=='I'"}],
     "mark":{"type":"line","strokeWidth":2,"interpolate":"monotone"},
     "encoding":{"x":{"field":"t","type":"quantitative","scale":{"domain":[0,64],"nice":false},"axis":{"values":[0,10,21,32,42,53,64],"labelExpr":"['15Jan20','25Jan20','05Feb20','16Feb20','26Feb20','08Mar20','19Mar20'][indexof([0,10,21,32,42,53,64],datum.value)]","title":null}},
                 "y":{"field":"v","type":"quantitative","scale":{"domain":[0,647],"nice":false},"axis":{"values":[0,200,400,600],"title":"I\u2c7c(t)"}},
                 "color":{"datum":"I\u2c7c(t) (estimated)","scale":{"range":["#D95319"]},"legend":{"title":null,"legendX":258,"legendY":42}}}},
    {"width":369,"height":77,"data":{"name":"est"},"transform":[{"filter":"datum.p=='c'&&datum.s=='E'"}],
     "mark":{"type":"line","strokeWidth":2,"interpolate":"monotone"},
     "encoding":{"x":{"field":"t","type":"quantitative","scale":{"domain":[0,64],"nice":false},"axis":{"values":[0,10,21,32,42,53,64],"labelExpr":"['15Jan20','25Jan20','05Feb20','16Feb20','26Feb20','08Mar20','19Mar20'][indexof([0,10,21,32,42,53,64],datum.value)]","title":null}},
                 "y":{"field":"v","type":"quantitative","scale":{"domain":[0,200],"nice":false},"axis":{"values":[0,100,200],"title":"E\u2c7c(t)"}},
                 "color":{"datum":"E\u2c7c(t) (estimated)","scale":{"range":["#D95319"]},"legend":{"title":null,"legendX":253,"legendY":42}}}}
   ]},
  {"title":{"text":"(e)\u00a0\u00a0Kanagawa-ken"},"spacing":30,"bounds":"flush",
   "resolve":{"scale":{"x":"independent","y":"independent","color":"independent"},"legend":{"color":"independent"}},
   "vconcat":[
    {"width":369,"height":76,
     "encoding":{"x":{"field":"t","type":"quantitative","scale":{"domain":[0,64],"nice":false},"axis":{"values":[0,10,21,32,42,53,64],"labelExpr":"['15Jan20','25Jan20','05Feb20','16Feb20','26Feb20','08Mar20','19Mar20'][indexof([0,10,21,32,42,53,64],datum.value)]","title":null}},
                 "y":{"field":"v","type":"quantitative","scale":{"domain":[0,69],"nice":false},"axis":{"values":[0,20,40,60],"title":"Q\u2c7c(t)"}}},
     "layer":[
      {"data":{"name":"obs"},"transform":[{"filter":"datum.p=='e'"}],
       "mark":{"type":"line","strokeWidth":1.8,"point":{"shape":"square","filled":false,"size":34,"strokeWidth":1.6}},
       "encoding":{"color":{"datum":"Q\u2c7c(t) (official)","scale":{"domain":["Q\u2c7c(t) (official)","Q\u2c7c(t) (estimated)"],"range":["#0072BD","#D95319"]},
         "legend":{"title":null,"legendX":131,"legendY":6,"encode":{"symbols":{"update":{"shape":{"signal":"datum.index===0?'M-1,0H1M-0.2,-0.2H0.2V0.2H-0.2Z':'stroke'"},"fill":{"value":"transparent"},"stroke":{"signal":"datum.index===0?'#0072BD':'#D95319'"}}}}}}}},
      {"data":{"name":"est"},"transform":[{"filter":"datum.p=='e'&&datum.s=='Q'"}],
       "mark":{"type":"line","strokeWidth":2,"interpolate":"monotone"},
       "encoding":{"color":{"datum":"Q\u2c7c(t) (estimated)"}}}
     ]},
    {"width":369,"height":76,"data":{"name":"est"},"transform":[{"filter":"datum.p=='e'&&datum.s=='I'"}],
     "mark":{"type":"line","strokeWidth":2,"interpolate":"monotone"},
     "encoding":{"x":{"field":"t","type":"quantitative","scale":{"domain":[0,64],"nice":false},"axis":{"values":[0,10,21,32,42,53,64],"labelExpr":"['15Jan20','25Jan20','05Feb20','16Feb20','26Feb20','08Mar20','19Mar20'][indexof([0,10,21,32,42,53,64],datum.value)]","title":null}},
                 "y":{"field":"v","type":"quantitative","scale":{"domain":[0,2000],"nice":false},"axis":{"values":[0,1000,2000],"title":"I\u2c7c(t)"}},
                 "color":{"datum":"I\u2c7c(t) (estimated)","scale":{"range":["#D95319"]},"legend":{"title":null,"legendX":11,"legendY":3}}}},
    {"width":369,"height":77,"data":{"name":"est"},"transform":[{"filter":"datum.p=='e'&&datum.s=='E'"}],
     "mark":{"type":"line","strokeWidth":2,"interpolate":"monotone"},
     "encoding":{"x":{"field":"t","type":"quantitative","scale":{"domain":[0,64],"nice":false},"axis":{"values":[0,10,21,32,42,53,64],"labelExpr":"['15Jan20','25Jan20','05Feb20','16Feb20','26Feb20','08Mar20','19Mar20'][indexof([0,10,21,32,42,53,64],datum.value)]","title":null}},
                 "y":{"field":"v","type":"quantitative","scale":{"domain":[0,600],"nice":false},"axis":{"values":[0,200,400,600],"title":"E\u2c7c(t)"}},
                 "color":{"datum":"E\u2c7c(t) (estimated)","scale":{"range":["#D95319"]},"legend":{"title":null,"legendX":9,"legendY":3}}}}
   ]},
  {"title":{"text":"(g)\u00a0\u00a0Saitama-ken"},"spacing":30,"bounds":"flush",
   "resolve":{"scale":{"x":"independent","y":"independent","color":"independent"},"legend":{"color":"independent"}},
   "vconcat":[
    {"width":369,"height":77,
     "encoding":{"x":{"field":"t","type":"quantitative","scale":{"domain":[0,64],"nice":false},"axis":{"values":[0,10,21,32,42,53,64],"labelExpr":"['15Jan20','25Jan20','05Feb20','16Feb20','26Feb20','08Mar20','19Mar20'][indexof([0,10,21,32,42,53,64],datum.value)]","title":null}},
                 "y":{"field":"v","type":"quantitative","scale":{"domain":[0,40],"nice":false},"axis":{"values":[0,20,40],"title":"Q\u2c7c(t)"}}},
     "layer":[
      {"data":{"name":"obs"},"transform":[{"filter":"datum.p=='g'"}],
       "mark":{"type":"line","strokeWidth":1.8,"point":{"shape":"square","filled":false,"size":34,"strokeWidth":1.6}},
       "encoding":{"color":{"datum":"Q\u2c7c(t) (official)","scale":{"domain":["Q\u2c7c(t) (official)","Q\u2c7c(t) (estimated)"],"range":["#0072BD","#D95319"]},
         "legend":{"title":null,"legendX":128,"legendY":7,"encode":{"symbols":{"update":{"shape":{"signal":"datum.index===0?'M-1,0H1M-0.2,-0.2H0.2V0.2H-0.2Z':'stroke'"},"fill":{"value":"transparent"},"stroke":{"signal":"datum.index===0?'#0072BD':'#D95319'"}}}}}}}},
      {"data":{"name":"est"},"transform":[{"filter":"datum.p=='g'&&datum.s=='Q'"}],
       "mark":{"type":"line","strokeWidth":2,"interpolate":"monotone"},
       "encoding":{"color":{"datum":"Q\u2c7c(t) (estimated)"}}}
     ]},
    {"width":369,"height":77,"data":{"name":"est"},"transform":[{"filter":"datum.p=='g'&&datum.s=='I'"}],
     "mark":{"type":"line","strokeWidth":2,"interpolate":"monotone"},
     "encoding":{"x":{"field":"t","type":"quantitative","scale":{"domain":[0,64],"nice":false},"axis":{"values":[0,10,21,32,42,53,64],"labelExpr":"['15Jan20','25Jan20','05Feb20','16Feb20','26Feb20','08Mar20','19Mar20'][indexof([0,10,21,32,42,53,64],datum.value)]","title":null}},
                 "y":{"field":"v","type":"quantitative","scale":{"domain":[0,620],"nice":false},"axis":{"values":[0,200,400,600],"title":"I\u2c7c(t)"}},
                 "color":{"datum":"I\u2c7c(t) (estimated)","scale":{"range":["#D95319"]},"legend":{"title":null,"legendX":6,"legendY":3}}}},
    {"width":369,"height":77,"data":{"name":"est"},"transform":[{"filter":"datum.p=='g'&&datum.s=='E'"}],
     "mark":{"type":"line","strokeWidth":2,"interpolate":"monotone"},
     "encoding":{"x":{"field":"t","type":"quantitative","scale":{"domain":[0,64],"nice":false},"axis":{"values":[0,10,21,32,42,53,64],"labelExpr":"['15Jan20','25Jan20','05Feb20','16Feb20','26Feb20','08Mar20','19Mar20'][indexof([0,10,21,32,42,53,64],datum.value)]","title":null}},
                 "y":{"field":"v","type":"quantitative","scale":{"domain":[0,400],"nice":false},"axis":{"values":[0,200,400],"title":"E\u2c7c(t)"}},
                 "color":{"datum":"E\u2c7c(t) (estimated)","scale":{"range":["#D95319"]},"legend":{"title":null,"legendX":6,"legendY":3}}}}
   ]}
 ]},
{"spacing":32,
 "resolve":{"scale":{"x":"independent","y":"independent","color":"independent"},"legend":{"color":"independent"},"axis":{"x":"independent","y":"independent"}},
 "vconcat":[
  {"title":{"text":"(b)\u00a0\u00a0Chiba-ken"},"spacing":30,"bounds":"flush",
   "resolve":{"scale":{"x":"independent","y":"independent","color":"independent"},"legend":{"color":"independent"}},
   "vconcat":[
    {"width":367,"height":77,
     "encoding":{"x":{"field":"t","type":"quantitative","scale":{"domain":[0,64],"nice":false},"axis":{"values":[0,10,21,32,42,53,64],"labelExpr":"['15Jan20','25Jan20','05Feb20','16Feb20','26Feb20','08Mar20','19Mar20'][indexof([0,10,21,32,42,53,64],datum.value)]","title":null}},
                 "y":{"field":"v","type":"quantitative","scale":{"domain":[0,40],"nice":false},"axis":{"values":[0,20,40],"title":"Q\u2c7c(t)"}}},
     "layer":[
      {"data":{"name":"obs"},"transform":[{"filter":"datum.p=='b'"}],
       "mark":{"type":"line","strokeWidth":1.8,"point":{"shape":"square","filled":false,"size":34,"strokeWidth":1.6}},
       "encoding":{"color":{"datum":"Q\u2c7c(t) (official)","scale":{"domain":["Q\u2c7c(t) (official)","Q\u2c7c(t) (estimated)"],"range":["#0072BD","#D95319"]},
         "legend":{"title":null,"legendX":127,"legendY":5,"encode":{"symbols":{"update":{"shape":{"signal":"datum.index===0?'M-1,0H1M-0.2,-0.2H0.2V0.2H-0.2Z':'stroke'"},"fill":{"value":"transparent"},"stroke":{"signal":"datum.index===0?'#0072BD':'#D95319'"}}}}}}}},
      {"data":{"name":"est"},"transform":[{"filter":"datum.p=='b'&&datum.s=='Q'"}],
       "mark":{"type":"line","strokeWidth":2,"interpolate":"monotone"},
       "encoding":{"color":{"datum":"Q\u2c7c(t) (estimated)"}}}
     ]},
    {"width":367,"height":76,"data":{"name":"est"},"transform":[{"filter":"datum.p=='b'&&datum.s=='I'"}],
     "mark":{"type":"line","strokeWidth":2,"interpolate":"monotone"},
     "encoding":{"x":{"field":"t","type":"quantitative","scale":{"domain":[0,64],"nice":false},"axis":{"values":[0,10,21,32,42,53,64],"labelExpr":"['15Jan20','25Jan20','05Feb20','16Feb20','26Feb20','08Mar20','19Mar20'][indexof([0,10,21,32,42,53,64],datum.value)]","title":null}},
                 "y":{"field":"v","type":"quantitative","scale":{"domain":[0,1500],"nice":false},"axis":{"values":[0,500,1000,1500],"title":"I\u2c7c(t)"}},
                 "color":{"datum":"I\u2c7c(t) (estimated)","scale":{"range":["#D95319"]},"legend":{"title":null,"legendX":7,"legendY":3}}}},
    {"width":367,"height":76,"data":{"name":"est"},"transform":[{"filter":"datum.p=='b'&&datum.s=='E'"}],
     "mark":{"type":"line","strokeWidth":2,"interpolate":"monotone"},
     "encoding":{"x":{"field":"t","type":"quantitative","scale":{"domain":[0,64],"nice":false},"axis":{"values":[0,10,21,32,42,53,64],"labelExpr":"['15Jan20','25Jan20','05Feb20','16Feb20','26Feb20','08Mar20','19Mar20'][indexof([0,10,21,32,42,53,64],datum.value)]","title":null}},
                 "y":{"field":"v","type":"quantitative","scale":{"domain":[0,300],"nice":false},"axis":{"values":[0,100,200,300],"title":"E\u2c7c(t)"}},
                 "color":{"datum":"E\u2c7c(t) (estimated)","scale":{"range":["#D95319"]},"legend":{"title":null,"legendX":5,"legendY":3}}}}
   ]},
  {"title":{"text":"(d)\u00a0\u00a0Hyogo-ken"},"spacing":33,"bounds":"flush",
   "resolve":{"scale":{"x":"independent","y":"independent","color":"independent"},"legend":{"color":"independent"}},
   "vconcat":[
    {"width":367,"height":72,
     "encoding":{"x":{"field":"t","type":"quantitative","scale":{"domain":[0,64],"nice":false},"axis":{"values":[0,10,21,32,42,53,64],"labelExpr":"['15Jan20','25Jan20','05Feb20','16Feb20','26Feb20','08Mar20','19Mar20'][indexof([0,10,21,32,42,53,64],datum.value)]","title":null}},
                 "y":{"field":"v","type":"quantitative","scale":{"domain":[0,104],"nice":false},"axis":{"values":[0,50,100],"title":"Q\u2c7c(t)"}}},
     "layer":[
      {"data":{"name":"obs"},"transform":[{"filter":"datum.p=='d'"}],
       "mark":{"type":"line","strokeWidth":1.8,"point":{"shape":"square","filled":false,"size":34,"strokeWidth":1.6}},
       "encoding":{"color":{"datum":"Q\u2c7c(t) (official)","scale":{"domain":["Q\u2c7c(t) (official)","Q\u2c7c(t) (estimated)"],"range":["#0072BD","#D95319"]},
         "legend":{"title":null,"legendX":132,"legendY":6,"encode":{"symbols":{"update":{"shape":{"signal":"datum.index===0?'M-1,0H1M-0.2,-0.2H0.2V0.2H-0.2Z':'stroke'"},"fill":{"value":"transparent"},"stroke":{"signal":"datum.index===0?'#0072BD':'#D95319'"}}}}}}}},
      {"data":{"name":"est"},"transform":[{"filter":"datum.p=='d'&&datum.s=='Q'"}],
       "mark":{"type":"line","strokeWidth":2,"interpolate":"monotone"},
       "encoding":{"color":{"datum":"Q\u2c7c(t) (estimated)"}}}
     ]},
    {"width":367,"height":72,"title":{"text":"\u00d710\u2074","orient":"top","anchor":"start","frame":"group","font":"Liberation Sans","fontSize":9.5,"color":"#262626","offset":1},
     "data":{"name":"est"},"transform":[{"filter":"datum.p=='d'&&datum.s=='I'"}],
     "mark":{"type":"line","strokeWidth":2,"interpolate":"monotone"},
     "encoding":{"x":{"field":"t","type":"quantitative","scale":{"domain":[0,64],"nice":false},"axis":{"values":[0,10,21,32,42,53,64],"labelExpr":"['15Jan20','25Jan20','05Feb20','16Feb20','26Feb20','08Mar20','19Mar20'][indexof([0,10,21,32,42,53,64],datum.value)]","title":null}},
                 "y":{"field":"v","type":"quantitative","scale":{"domain":[0,20000],"nice":false},"axis":{"values":[0,10000,20000],"labelExpr":"datum.value/10000","title":"I\u2c7c(t)"}},
                 "color":{"datum":"I\u2c7c(t) (estimated)","scale":{"range":["#D95319"]},"legend":{"title":null,"legendX":12,"legendY":3}}}},
    {"width":367,"height":72,"data":{"name":"est"},"transform":[{"filter":"datum.p=='d'&&datum.s=='E'"}],
     "mark":{"type":"line","strokeWidth":2,"interpolate":"monotone"},
     "encoding":{"x":{"field":"t","type":"quantitative","scale":{"domain":[0,64],"nice":false},"axis":{"values":[0,10,21,32,42,53,64],"labelExpr":"['15Jan20','25Jan20','05Feb20','16Feb20','26Feb20','08Mar20','19Mar20'][indexof([0,10,21,32,42,53,64],datum.value)]","title":null}},
                 "y":{"field":"v","type":"quantitative","scale":{"domain":[0,11100],"nice":false},"axis":{"values":[0,5000,10000],"title":"E\u2c7c(t)"}},
                 "color":{"datum":"E\u2c7c(t) (estimated)","scale":{"range":["#D95319"]},"legend":{"title":null,"legendX":10,"legendY":3}}}}
   ]},
  {"title":{"text":"(f)\u00a0\u00a0Osaka-fu"},"spacing":30,"bounds":"flush",
   "resolve":{"scale":{"x":"independent","y":"independent","color":"independent"},"legend":{"color":"independent"}},
   "vconcat":[
    {"width":367,"height":76,
     "encoding":{"x":{"field":"t","type":"quantitative","scale":{"domain":[0,64],"nice":false},"axis":{"values":[0,10,21,32,42,53,64],"labelExpr":"['15Jan20','25Jan20','05Feb20','16Feb20','26Feb20','08Mar20','19Mar20'][indexof([0,10,21,32,42,53,64],datum.value)]","title":null}},
                 "y":{"field":"v","type":"quantitative","scale":{"domain":[0,150],"nice":false},"axis":{"values":[0,50,100,150],"title":"Q\u2c7c(t)"}}},
     "layer":[
      {"data":{"name":"obs"},"transform":[{"filter":"datum.p=='f'"}],
       "mark":{"type":"line","strokeWidth":1.8,"point":{"shape":"square","filled":false,"size":34,"strokeWidth":1.6}},
       "encoding":{"color":{"datum":"Q\u2c7c(t) (official)","scale":{"domain":["Q\u2c7c(t) (official)","Q\u2c7c(t) (estimated)"],"range":["#0072BD","#D95319"]},
         "legend":{"title":null,"legendX":131,"legendY":7,"encode":{"symbols":{"update":{"shape":{"signal":"datum.index===0?'M-1,0H1M-0.2,-0.2H0.2V0.2H-0.2Z':'stroke'"},"fill":{"value":"transparent"},"stroke":{"signal":"datum.index===0?'#0072BD':'#D95319'"}}}}}}}},
      {"data":{"name":"est"},"transform":[{"filter":"datum.p=='f'&&datum.s=='Q'"}],
       "mark":{"type":"line","strokeWidth":2,"interpolate":"monotone"},
       "encoding":{"color":{"datum":"Q\u2c7c(t) (estimated)"}}}
     ]},
    {"width":367,"height":76,"data":{"name":"est"},"transform":[{"filter":"datum.p=='f'&&datum.s=='I'"}],
     "mark":{"type":"line","strokeWidth":2,"interpolate":"monotone"},
     "encoding":{"x":{"field":"t","type":"quantitative","scale":{"domain":[0,64],"nice":false},"axis":{"values":[0,10,21,32,42,53,64],"labelExpr":"['15Jan20','25Jan20','05Feb20','16Feb20','26Feb20','08Mar20','19Mar20'][indexof([0,10,21,32,42,53,64],datum.value)]","title":null}},
                 "y":{"field":"v","type":"quantitative","scale":{"domain":[0,11740],"nice":false},"axis":{"values":[0,5000,10000],"title":"I\u2c7c(t)"}},
                 "color":{"datum":"I\u2c7c(t) (estimated)","scale":{"range":["#D95319"]},"legend":{"title":null,"legendX":12,"legendY":3}}}},
    {"width":367,"height":75,"data":{"name":"est"},"transform":[{"filter":"datum.p=='f'&&datum.s=='E'"}],
     "mark":{"type":"line","strokeWidth":2,"interpolate":"monotone"},
     "encoding":{"x":{"field":"t","type":"quantitative","scale":{"domain":[0,64],"nice":false},"axis":{"values":[0,10,21,32,42,53,64],"labelExpr":"['15Jan20','25Jan20','05Feb20','16Feb20','26Feb20','08Mar20','19Mar20'][indexof([0,10,21,32,42,53,64],datum.value)]","title":null}},
                 "y":{"field":"v","type":"quantitative","scale":{"domain":[0,6750],"nice":false},"axis":{"values":[0,2000,4000,6000],"title":"E\u2c7c(t)"}},
                 "color":{"datum":"E\u2c7c(t) (estimated)","scale":{"range":["#D95319"]},"legend":{"title":null,"legendX":11,"legendY":3}}}}
   ]},
  {"title":{"text":"(h)\u00a0\u00a0Tokyo-to","offset":21},"spacing":30,"bounds":"flush",
   "resolve":{"scale":{"x":"independent","y":"independent","color":"independent"},"legend":{"color":"independent"}},
   "vconcat":[
    {"width":367,"height":77,
     "encoding":{"x":{"field":"t","type":"quantitative","scale":{"domain":[0,64],"nice":false},"axis":{"values":[0,10,21,32,42,53,64],"labelExpr":"['15Jan20','25Jan20','05Feb20','16Feb20','26Feb20','08Mar20','19Mar20'][indexof([0,10,21,32,42,53,64],datum.value)]","title":null}},
                 "y":{"field":"v","type":"quantitative","scale":{"domain":[0,150],"nice":false},"axis":{"values":[0,50,100,150],"title":"Q\u2c7c(t)"}}},
     "layer":[
      {"data":{"name":"obs"},"transform":[{"filter":"datum.p=='h'"}],
       "mark":{"type":"line","strokeWidth":1.8,"point":{"shape":"square","filled":false,"size":34,"strokeWidth":1.6}},
       "encoding":{"color":{"datum":"Q\u2c7c(t) (official)","scale":{"domain":["Q\u2c7c(t) (official)","Q\u2c7c(t) (estimated)"],"range":["#0072BD","#D95319"]},
         "legend":{"title":null,"legendX":127,"legendY":6,"encode":{"symbols":{"update":{"shape":{"signal":"datum.index===0?'M-1,0H1M-0.2,-0.2H0.2V0.2H-0.2Z':'stroke'"},"fill":{"value":"transparent"},"stroke":{"signal":"datum.index===0?'#0072BD':'#D95319'"}}}}}}}},
      {"data":{"name":"est"},"transform":[{"filter":"datum.p=='h'&&datum.s=='Q'"}],
       "mark":{"type":"line","strokeWidth":2,"interpolate":"monotone"},
       "encoding":{"color":{"datum":"Q\u2c7c(t) (estimated)"}}}
     ]},
    {"width":367,"height":77,"data":{"name":"est"},"transform":[{"filter":"datum.p=='h'&&datum.s=='I'"}],
     "mark":{"type":"line","strokeWidth":2,"interpolate":"monotone"},
     "encoding":{"x":{"field":"t","type":"quantitative","scale":{"domain":[0,64],"nice":false},"axis":{"values":[0,10,21,32,42,53,64],"labelExpr":"['15Jan20','25Jan20','05Feb20','16Feb20','26Feb20','08Mar20','19Mar20'][indexof([0,10,21,32,42,53,64],datum.value)]","title":null}},
                 "y":{"field":"v","type":"quantitative","scale":{"domain":[0,3000],"nice":false},"axis":{"values":[0,1000,2000,3000],"title":"I\u2c7c(t)"}},
                 "color":{"datum":"I\u2c7c(t) (estimated)","scale":{"range":["#D95319"]},"legend":{"title":null,"legendX":7,"legendY":3}}}},
    {"width":367,"height":77,"data":{"name":"est"},"transform":[{"filter":"datum.p=='h'&&datum.s=='E'"}],
     "mark":{"type":"line","strokeWidth":2,"interpolate":"monotone"},
     "encoding":{"x":{"field":"t","type":"quantitative","scale":{"domain":[0,64],"nice":false},"axis":{"values":[0,10,21,32,42,53,64],"labelExpr":"['15Jan20','25Jan20','05Feb20','16Feb20','26Feb20','08Mar20','19Mar20'][indexof([0,10,21,32,42,53,64],datum.value)]","title":null}},
                 "y":{"field":"v","type":"quantitative","scale":{"domain":[0,1185],"nice":false},"axis":{"values":[0,500,1000],"title":"E\u2c7c(t)"}},
                 "color":{"datum":"E\u2c7c(t) (estimated)","scale":{"range":["#D95319"]},"legend":{"title":null,"legendX":6,"legendY":3}}}}
   ]}
 ]}
]
}
